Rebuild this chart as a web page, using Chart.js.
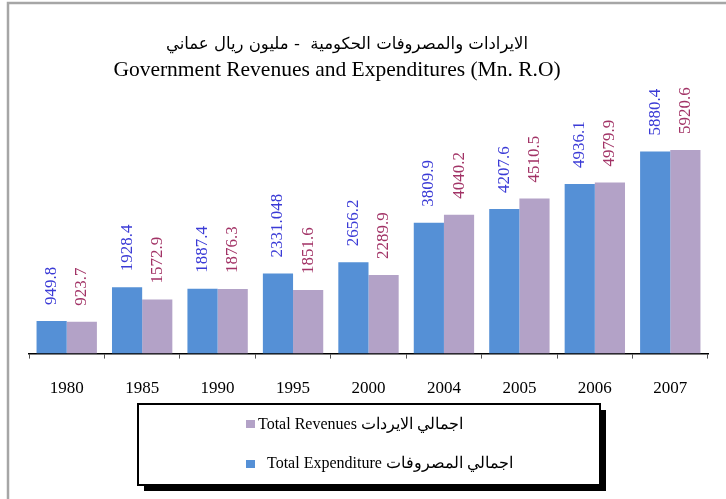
<!DOCTYPE html>
<html>
<head>
<meta charset="utf-8">
<script src="https://cdn.jsdelivr.net/npm/chart.js@4.4.1/dist/chart.umd.min.js"></script>
<style>
  body { margin: 0; background: #fff; }
  #wrap { width: 726px; height: 499px; }
</style>
</head>
<body>
<div id="wrap"><canvas id="myChart" width="726" height="499"></canvas></div>
<script>
const years = ['1980', '1985', '1990', '1995', '2000', '2004', '2005', '2006', '2007'];
const expenditure = [949.8, 1928.4, 1887.4, 2331.048, 2656.2, 3809.9, 4207.6, 4936.1, 5880.4];
const revenues = [923.7, 1572.9, 1876.3, 1851.6, 2289.9, 4040.2, 4510.5, 4979.9, 5920.6];

const titleAr = 'الايرادات والمصروفات الحكومية  - مليون ريال عماني';
const titleEn = 'Government Revenues and Expenditures (Mn. R.O)';
const labelExp = 'Total Expenditure اجمالي المصروفات';
const labelRev = 'Total Revenues اجمالي الايردات';

const serif = '"Liberation Serif", "Times New Roman", serif';

const ctx = document.getElementById('myChart');

// frame, titles and the boxed legend
const decorPlugin = {
  id: 'decor',
  beforeDraw: (chart) => {
    const c = chart.ctx;
    c.save();
    c.fillStyle = '#fff';
    c.fillRect(0, 0, chart.width, chart.height);
    c.strokeStyle = '#a6a6a6';
    c.lineWidth = 2.5;
    c.strokeRect(8, 3, 760, 540);
    c.restore();
  },
  afterDraw: (chart) => {
    const c = chart.ctx;
    c.save();
    c.fillStyle = '#000';
    c.textAlign = 'center';
    c.textBaseline = 'alphabetic';
    c.font = '16.5px "DejaVu Sans", sans-serif';
    c.fillText(titleAr, 347, 49);
    c.font = '21.5px ' + serif;
    c.fillText(titleEn, 337, 76);

    // legend box with shadow
    c.fillStyle = '#000';
    c.fillRect(144, 410, 462, 81);
    c.fillStyle = '#fff';
    c.fillRect(138, 404, 462, 81);
    c.strokeStyle = '#000';
    c.lineWidth = 2;
    c.strokeRect(138, 404, 462, 81);

    const ds = chart.data.datasets;
    c.textAlign = 'left';
    c.textBaseline = 'middle';
    c.font = '16px ' + serif;
    c.fillStyle = ds[1].backgroundColor;
    c.fillRect(246, 420, 9, 8);
    c.fillStyle = '#000';
    c.fillText(ds[1].label, 258, 425);
    c.fillStyle = ds[0].backgroundColor;
    c.fillRect(246, 460, 9, 8);
    c.fillStyle = '#000';
    c.fillText(ds[0].label, 267, 464);
    c.restore();
  },
  afterDatasetsDraw: (chart) => {
    const c = chart.ctx;
    c.save();
    c.font = '17px ' + serif;
    c.textAlign = 'left';
    c.textBaseline = 'middle';
    chart.data.datasets.forEach((ds, i) => {
      chart.getDatasetMeta(i).data.forEach((bar, j) => {
        c.save();
        c.translate(bar.x, bar.y - 16);
        c.rotate(-Math.PI / 2);
        c.fillStyle = ds.valueColor;
        c.fillText(String(ds.data[j]), 0, 0);
        c.restore();
      });
    });
    c.restore();
  }
};

new Chart(ctx, {
  type: 'bar',
  data: {
    labels: years,
    datasets: [
      {
        label: labelExp,
        data: expenditure,
        backgroundColor: '#5590d6',
        valueColor: '#3b3bd6',
        categoryPercentage: 0.8,
        barPercentage: 1.0,
      },
      {
        label: labelRev,
        data: revenues,
        backgroundColor: '#b3a2c7',
        valueColor: '#a23366',
        categoryPercentage: 0.8,
        barPercentage: 1.0,
      },
    ],
  },
  options: {
    responsive: false,
    animation: false,
    layout: { padding: { top: 113, left: 29, right: 18, bottom: 80 } },
    plugins: {
      legend: { display: false },
      title: { display: false },
      tooltip: { enabled: false },
    },
    scales: {
      x: {
        offset: true,
        grid: {
          offset: true,
          drawOnChartArea: false,
          tickLength: 5,
          color: '#555',
        },
        border: { display: true, color: '#000', width: 1.5 },
        ticks: {
          color: '#000',
          font: { family: serif, size: 17 },
          padding: 20,
          maxRotation: 0,
        },
      },
      y: {
        display: false,
        min: 0,
        max: 7000,
      },
    },
  },
  plugins: [decorPlugin],
});
</script>
</body>
</html>
